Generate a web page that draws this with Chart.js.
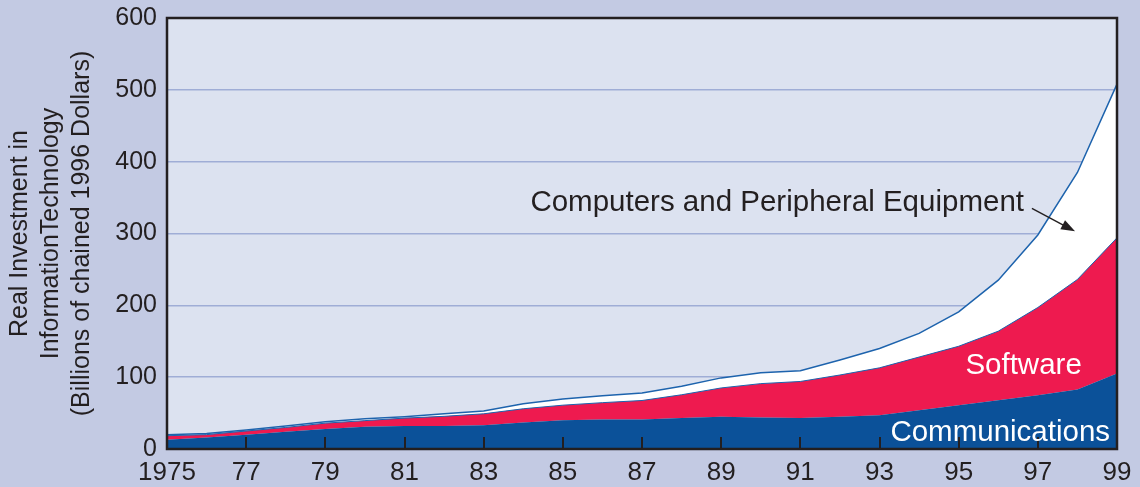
<!DOCTYPE html>
<html>
<head>
<meta charset="utf-8">
<script src="https://cdn.jsdelivr.net/npm/chart.js@4"></script>
<style>
  html, body { margin: 0; padding: 0; background: #c3cae3; }
  #wrap { width: 1140px; height: 487px; }
</style>
</head>
<body>
<div id="wrap"><canvas id="grafica" width="1140" height="487"></canvas></div>
<script>
const years = [1975, 1976, 1977, 1978, 1979, 1980, 1981, 1982, 1983, 1984, 1985, 1986,
               1987, 1988, 1989, 1990, 1991, 1992, 1993, 1994, 1995, 1996, 1997, 1998, 1999]

const communications = [13, 16, 20, 24, 28, 31, 32, 32, 33, 37, 40, 41,
                        41, 43, 45, 44, 43, 45, 47, 54, 61, 68, 75, 83, 105]

const software = [5.5, 4, 5, 6, 8, 8.5, 11, 13.5, 16, 19, 21, 23.5,
                  26.5, 32.5, 40, 47, 51, 58, 66, 74, 82, 96, 122, 153, 189]

const computers = [1.5, 1.5, 1.5, 2, 2, 2.5, 2, 3.5, 4, 7, 8.5, 9.5,
                   10.5, 12, 14, 15, 15, 21, 27, 33, 48, 71, 101, 149, 214]

const xTickYears = [1975, 1977, 1979, 1981, 1983, 1985, 1987, 1989, 1991, 1993, 1995, 1997, 1999]
const yTicks = [0, 100, 200, 300, 400, 500, 600]

const yTitle = ["Real Investment in", "InformationTechnology", "(Billions of chained 1996 Dollars)"]

const dark = "#231f20"
const blue = "#0b5199"
const lineBlue = "#1d63ad"
const red = "#ee1a4f"

function puntos(valores) {
    return valores.map((v, i) => ({ x: years[i], y: v }))
}

const fondo = {
    id: "fondo",
    beforeDraw(chart) {
        const { ctx, chartArea: a } = chart
        ctx.save()
        ctx.fillStyle = "#dce2f0"
        ctx.fillRect(a.left, a.top, a.width, a.height)
        ctx.restore()
    }
}

const extras = {
    id: "extras",
    afterDraw(chart) {
        const { ctx, chartArea: a } = chart
        const sx = chart.scales.x
        const sy = chart.scales.y
        ctx.save()

        // tick marks inside the frame
        ctx.strokeStyle = dark
        ctx.lineWidth = 2
        xTickYears.forEach(yr => {
            const px = Math.round(sx.getPixelForValue(yr))
            ctx.beginPath()
            ctx.moveTo(px, a.bottom)
            ctx.lineTo(px, a.bottom - 12)
            ctx.stroke()
        })

        // frame
        ctx.lineWidth = 2.5
        ctx.strokeRect(a.left, a.top, a.width, a.height)

        // labels
        ctx.font = "29.5px 'Liberation Sans', Arial, sans-serif"
        ctx.textBaseline = "middle"
        ctx.fillStyle = dark
        ctx.textAlign = "right"
        ctx.fillText("Computers and Peripheral Equipment", sx.getPixelForValue(1996.65), sy.getPixelForValue(342))

        ctx.fillStyle = "#ffffff"
        ctx.textAlign = "center"
        ctx.fillText("Software", sx.getPixelForValue(1996.64), sy.getPixelForValue(116))
        ctx.fillText("Communications", sx.getPixelForValue(1996.05), sy.getPixelForValue(22))

        // arrow
        const x1 = sx.getPixelForValue(1996.85), y1 = sy.getPixelForValue(335)
        const x2 = sx.getPixelForValue(1997.94), y2 = sy.getPixelForValue(303)
        const ang = Math.atan2(y2 - y1, x2 - x1)
        ctx.strokeStyle = dark
        ctx.fillStyle = dark
        ctx.lineWidth = 1.5
        ctx.beginPath()
        ctx.moveTo(x1, y1)
        ctx.lineTo(x2 - 8 * Math.cos(ang), y2 - 8 * Math.sin(ang))
        ctx.stroke()
        ctx.beginPath()
        ctx.moveTo(x2, y2)
        ctx.lineTo(x2 - 14 * Math.cos(ang) + 5 * Math.sin(ang), y2 - 14 * Math.sin(ang) - 5 * Math.cos(ang))
        ctx.lineTo(x2 - 14 * Math.cos(ang) - 5 * Math.sin(ang), y2 - 14 * Math.sin(ang) + 5 * Math.cos(ang))
        ctx.closePath()
        ctx.fill()

        // y title
        ctx.translate(51, (a.top + a.bottom) / 2)
        ctx.rotate(-Math.PI / 2)
        ctx.font = "25px 'Liberation Sans', Arial, sans-serif"
        ctx.fillStyle = dark
        ctx.textAlign = "center"
        yTitle.forEach((t, i) => {
            ctx.fillText(t, 0, (i - 1) * 31)
        })

        ctx.restore()
    }
}

const ctx = document.getElementById("grafica").getContext("2d")

const chart = new Chart(ctx, {
    type: "line",
    data: {
        datasets: [
            {
                label: "Communications",
                data: puntos(communications),
                backgroundColor: blue,
                borderWidth: 0,
                fill: "origin"
            },
            {
                label: "Software",
                data: puntos(software),
                backgroundColor: red,
                borderColor: lineBlue,
                borderWidth: 1,
                fill: "-1"
            },
            {
                label: "Computers and Peripheral Equipment",
                data: puntos(computers),
                backgroundColor: "#ffffff",
                borderColor: lineBlue,
                borderWidth: 1.5,
                fill: "-1"
            }
        ]
    },
    options: {
        responsive: false,
        animation: false,
        layout: { padding: { top: 18, right: 23, left: 0, bottom: 0 } },
        elements: { point: { radius: 0 }, line: { tension: 0 } },
        plugins: { legend: { display: false }, tooltip: { enabled: false } },
        scales: {
            x: {
                type: "linear",
                min: 1975,
                max: 1999,
                afterFit(scale) {
                    scale.height = 38
                    scale.paddingLeft = 0
                    scale.paddingRight = 0
                },
                afterBuildTicks(scale) { scale.ticks = xTickYears.map(v => ({ value: v })) },
                grid: { display: false },
                border: { display: false },
                ticks: {
                    padding: 0,
                    color: dark,
                    font: { family: "'Liberation Sans', Arial, sans-serif", size: 26 },
                    maxRotation: 0,
                    autoSkip: false,
                    callback: v => v === 1975 ? "1975" : String(v).slice(2)
                }
            },
            y: {
                stacked: true,
                min: 0,
                max: 600,
                afterFit(scale) {
                    scale.width = 167
                    scale.paddingTop = 0
                    scale.paddingBottom = 0
                },
                afterBuildTicks(scale) { scale.ticks = yTicks.map(v => ({ value: v })) },
                grid: { color: "#9fadd6", lineWidth: 1.5, drawTicks: false },
                border: { display: false },
                ticks: {
                    padding: 10,
                    color: dark,
                    font: { family: "'Liberation Sans', Arial, sans-serif", size: 25 }
                }
            }
        }
    },
    plugins: [fondo, extras]
})
</script>
</body>
</html>
